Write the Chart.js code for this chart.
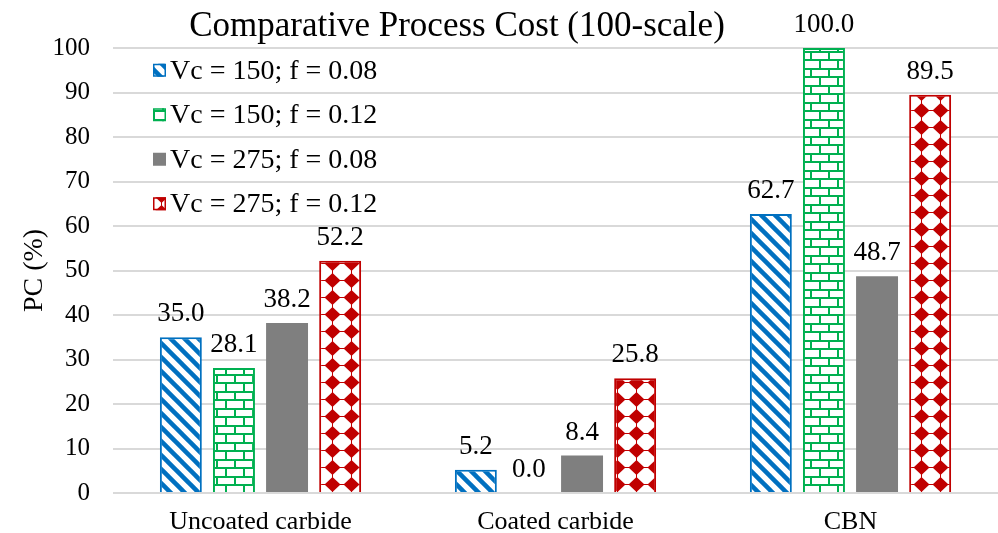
<!DOCTYPE html>
<html>
<head>
<meta charset="utf-8">
<script src="https://cdn.jsdelivr.net/npm/chart.js@4.4.1/dist/chart.umd.min.js"></script>
<style>
  html, body { margin: 0; padding: 0; background: #fff; }
  #wrap { position: relative; width: 998px; height: 533px; }
  #chartTitle {
    position: absolute; left: 0; top: 5px; width: 914px;
    text-align: center; font-family: "Liberation Serif", "Times New Roman", serif;
    font-size: 35px; line-height: 40px; color: #000;
  }
</style>
</head>
<body>
<div id="wrap">
  <canvas id="chart" width="998" height="533"></canvas>
  <div id="chartTitle">Comparative Process Cost (100-scale)</div>
</div>
<script>
// data
const categories = ["Uncoated carbide", "Coated carbide", "CBN"];
const seriesNames = ["Vc = 150; f = 0.08", "Vc = 150; f = 0.12", "Vc = 275; f = 0.08", "Vc = 275; f = 0.12"];
const vc150f008 = [35.0, 5.2, 62.7];
const vc150f012 = [28.1, 0.0, 100.0];
const vc275f008 = [38.2, 8.4, 48.7];
const vc275f012 = [52.2, 25.8, 89.5];
const yTicks = [0, 10, 20, 30, 40, 50, 60, 70, 80, 90, 100];

const SERIF = "'Liberation Serif', 'Times New Roman', serif";
const BLUE = "#0070C0", GREEN = "#00B050", GRAY = "#7F7F7F", RED = "#C00000";

// --- fill patterns ---
function makeTile(w, h, drawFn) {
    const c = document.createElement("canvas");
    c.width = w; c.height = h;
    const g = c.getContext("2d");
    g.fillStyle = "#fff";
    g.fillRect(0, 0, w, h);
    drawFn(g, w, h);
    return c;
}

const ctx0 = document.createElement("canvas").getContext("2d");

// wide downward diagonal
const stripeTile = makeTile(14, 14, (g, w, h) => {
    g.strokeStyle = BLUE;
    g.lineWidth = 4.5;
    for (let k = -1; k <= 1; k++) {
        g.beginPath();
        g.moveTo(k * w - 2, -2);
        g.lineTo(k * w + w + 2, h + 2);
        g.stroke();
    }
});

// horizontal brick
const brickTile = makeTile(18, 17, (g, w, h) => {
    g.fillStyle = GREEN;
    g.fillRect(0, 0, w, 2);
    g.fillRect(0, 8, w, 2);
    g.fillRect(0, 0, 2, 8);
    g.fillRect(9, 8, 2, 9);
});

// solid diamond
const diamondTile = makeTile(19, 17, (g, w, h) => {
    g.fillStyle = RED;
    const cx = w / 2, cy = h / 2;
    g.beginPath();
    g.moveTo(cx, cy - 7.5);
    g.lineTo(cx + 8, cy);
    g.lineTo(cx, cy + 7.5);
    g.lineTo(cx - 8, cy);
    g.closePath();
    g.fill();
    g.fillRect(0, Math.round(cy) - 1, w, 1);
    g.fillRect(Math.round(cx) - 1, 0, 1, h);
});

const stripeFill = ctx0.createPattern(stripeTile, "repeat");
const brickFill = ctx0.createPattern(brickTile, "repeat");
const diamondFill = ctx0.createPattern(diamondTile, "repeat");

// values above each bar
const valueLabels = {
    id: "valueLabels",
    afterDatasetsDraw(chart) {
        const { ctx } = chart;
        ctx.save();
        ctx.font = "27px " + SERIF;
        ctx.fillStyle = "#000";
        ctx.textAlign = "center";
        ctx.textBaseline = "alphabetic";
        chart.data.datasets.forEach((ds, i) => {
            chart.getDatasetMeta(i).data.forEach((bar, j) => {
                ctx.fillText(ds.data[j].toFixed(1), bar.x, bar.y - 16);
            });
        });
        ctx.restore();
    }
};

// legend inside the plot area, top-left
const insideLegend = {
    id: "insideLegend",
    afterDraw(chart) {
        const { ctx, chartArea } = chart;
        const y = chart.scales.y;
        ctx.save();
        ctx.font = "28px " + SERIF;
        ctx.textBaseline = "middle";
        ctx.textAlign = "left";
        chart.data.datasets.forEach((ds, i) => {
            const cy = y.getPixelForValue(95 - 10 * i);
            const x = chartArea.left + 40;
            ctx.fillStyle = ds.backgroundColor;
            ctx.fillRect(x, cy - 6.5, 13, 13);
            if (ds.borderWidth) {
                ctx.strokeStyle = ds.borderColor;
                ctx.lineWidth = 1.5;
                ctx.strokeRect(x + 0.75, cy - 5.75, 11.5, 11.5);
            }
            ctx.fillStyle = "#000";
            ctx.fillText(ds.label, x + 17, cy + 1);
        });
        ctx.restore();
    }
};

new Chart(document.getElementById("chart"), {
    type: "bar",
    data: {
        labels: categories,
        datasets: [
            { label: seriesNames[0], data: vc150f008, backgroundColor: stripeFill, borderColor: BLUE, borderWidth: 2 },
            { label: seriesNames[1], data: vc150f012, backgroundColor: brickFill, borderColor: GREEN, borderWidth: 2 },
            { label: seriesNames[2], data: vc275f008, backgroundColor: GRAY, borderWidth: 0 },
            { label: seriesNames[3], data: vc275f012, backgroundColor: diamondFill, borderColor: RED, borderWidth: 2 }
        ]
    },
    options: {
        responsive: false,
        animation: false,
        categoryPercentage: 0.72,
        barPercentage: 0.79,
        layout: { padding: { top: 48, right: 0, left: 18, bottom: 0 } },
        plugins: {
            legend: { display: false },
            title: { display: false },
            tooltip: { enabled: false }
        },
        scales: {
            x: {
                grid: { display: false },
                border: { display: false },
                afterFit: axis => { axis.height = 40; },
                ticks: { font: { family: SERIF, size: 26 }, color: "#000", padding: 6 }
            },
            y: {
                min: 0, max: 100,
                afterBuildTicks: axis => { axis.ticks = yTicks.map(v => ({ value: v })); },
                afterFit: axis => { axis.width = 95; },
                grid: { color: "#D9D9D9", lineWidth: 2, drawTicks: false },
                border: { display: false },
                ticks: { font: { family: SERIF, size: 25 }, color: "#000", padding: 23 },
                title: { display: true, text: "PC (%)", font: { family: SERIF, size: 28 }, color: "#000", padding: 0 }
            }
        }
    },
    plugins: [valueLabels, insideLegend]
});
</script>
</body>
</html>
